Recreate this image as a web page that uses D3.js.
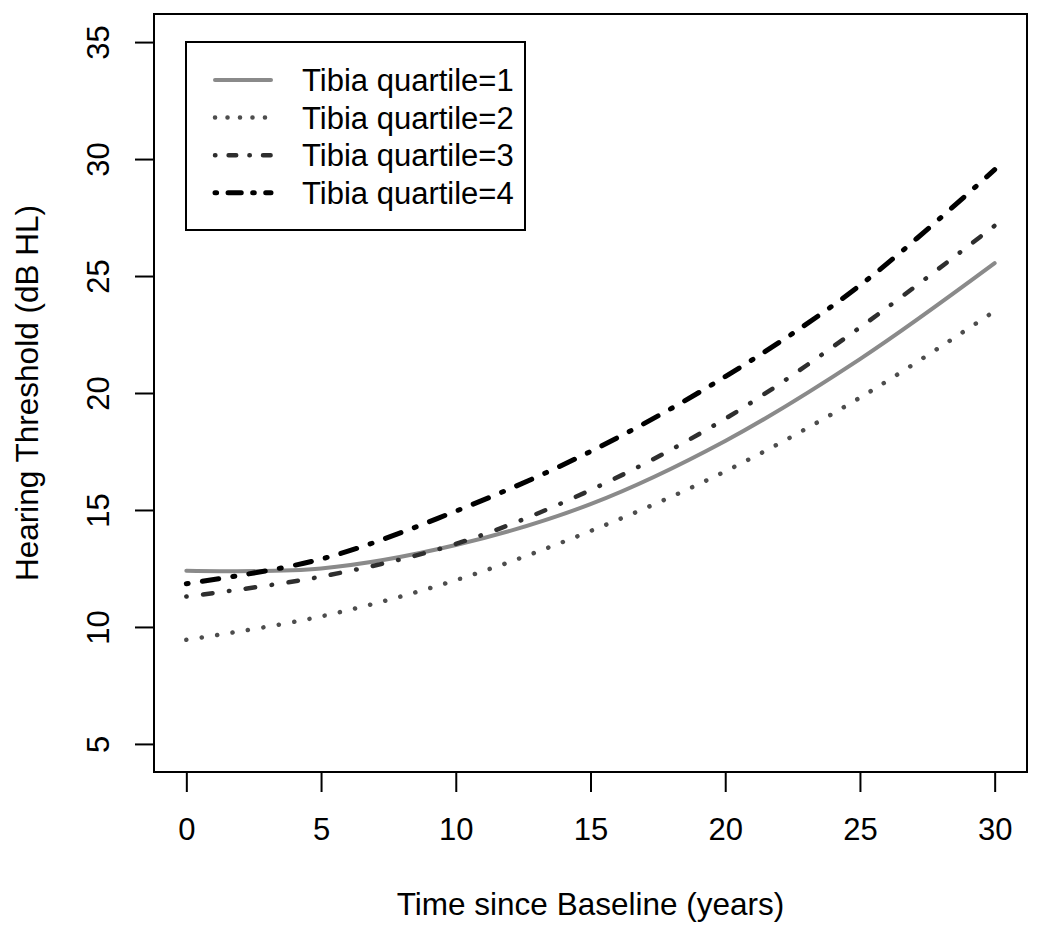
<!DOCTYPE html>
<html>
<head>
<meta charset="utf-8">
<script src="https://cdn.jsdelivr.net/npm/d3@7"></script>
<style>
  body { margin: 0; background: #fff; }
  svg { display: block; font-family: "Liberation Sans", Arial, sans-serif; }
  .axis text { font-size: 31px; fill: #000; }
  .axis line, .axis path { stroke: #000; stroke-width: 2; }
  .axis-title { font-size: 31.5px; fill: #000; }
  .legend text { font-size: 31px; fill: #000; }
</style>
</head>
<body>
<div id="chart"></div>
<script>
// Data (years since baseline vs. hearing threshold)
const years = [0, 5, 10, 15, 20, 25, 30];
const quartile1 = [12.4, 12.5, 13.5, 15.25, 17.95, 21.45, 25.55];
const quartile2 = [9.45, 10.45, 12.0, 14.1, 16.65, 19.8, 23.5];
const quartile3 = [11.3, 12.15, 13.55, 15.85, 18.9, 22.8, 27.15];
const quartile4 = [11.85, 12.9, 14.95, 17.5, 20.7, 24.6, 29.55];
const seriesNames = ['Tibia quartile=1', 'Tibia quartile=2', 'Tibia quartile=3', 'Tibia quartile=4'];
const xTicks = [0, 5, 10, 15, 20, 25, 30];
const yTicks = [5, 10, 15, 20, 25, 30, 35];

const series = [quartile1, quartile2, quartile3, quartile4].map((vals, i) => ({
  name: seriesNames[i],
  values: years.map((t, j) => ({t: t, v: vals[j]}))
}));

// line styles roughly like R's lty 1..4 in grey shades
const styles = [
  {color: '#8a8a8a', width: 4, dash: null},
  {color: '#4d4d4d', width: 4.5, dash: '0.1 15.5'},
  {color: '#2e2e2e', width: 4.5, dash: '0.5 16.5 9.5 16.5'},
  {color: '#000000', width: 5, dash: '2 14.3 16.5 14.3'}
];

const width = 1050, height = 932;
const plot = {left: 154, right: 1027, top: 14, bottom: 772};

const svg = d3.select('#chart').append('svg')
    .attr('width', width)
    .attr('height', height);

const xScale = d3.scaleLinear().domain([-1.2, 31.2]).range([plot.left, plot.right]);
const yScale = d3.scaleLinear().domain([3.8, 36.2]).range([plot.bottom, plot.top]);

// axes: R style, ticks outside, no domain line (box drawn separately)
const xAxis = d3.axisBottom(xScale).tickValues(xTicks).tickSize(20).tickPadding(16);
const yAxis = d3.axisLeft(yScale).tickValues(yTicks).tickSize(19).tickPadding(0);

svg.append('g')
    .attr('class', 'axis x-axis')
    .attr('transform', `translate(0,${plot.bottom})`)
    .call(xAxis)
    .call(g => g.select('.domain').remove())
    .call(g => g.selectAll('text').attr('dy', null).attr('y', 68));

svg.append('g')
    .attr('class', 'axis y-axis')
    .attr('transform', `translate(${plot.left},0)`)
    .call(yAxis)
    .call(g => g.select('.domain').remove())
    .call(g => g.selectAll('.tick text')
        .attr('x', null).attr('dy', null)
        .attr('text-anchor', 'middle')
        .attr('transform', 'translate(-45,0) rotate(-90)'));

// plot frame
svg.append('rect')
    .attr('x', plot.left)
    .attr('y', plot.top)
    .attr('width', plot.right - plot.left)
    .attr('height', plot.bottom - plot.top)
    .attr('fill', 'none')
    .attr('stroke', '#000')
    .attr('stroke-width', 2);

// axis titles
svg.append('text')
    .attr('class', 'axis-title')
    .attr('x', (plot.left + plot.right) / 2)
    .attr('y', 915)
    .attr('text-anchor', 'middle')
    .text('Time since Baseline (years)');

svg.append('text')
    .attr('class', 'axis-title')
    .attr('transform', `translate(38,${(plot.top + plot.bottom) / 2}) rotate(-90)`)
    .attr('text-anchor', 'middle')
    .text('Hearing Threshold (dB HL)');

// lines
const line = d3.line()
    .x(d => xScale(d.t))
    .y(d => yScale(d.v))
    .curve(d3.curveCatmullRom.alpha(0.5));

svg.append('g').selectAll('path')
    .data(series)
  .join('path')
    .attr('d', d => line(d.values))
    .attr('fill', 'none')
    .attr('stroke', (d, i) => styles[i].color)
    .attr('stroke-width', (d, i) => styles[i].width)
    .attr('stroke-dasharray', (d, i) => styles[i].dash)
    .attr('stroke-linecap', 'round');

// legend
const legend = svg.append('g').attr('class', 'legend');

legend.append('rect')
    .attr('x', 186)
    .attr('y', 42)
    .attr('width', 339)
    .attr('height', 188)
    .attr('fill', '#fff')
    .attr('stroke', '#000')
    .attr('stroke-width', 2);

const rows = legend.selectAll('.row')
    .data(series)
  .join('g')
    .attr('class', 'row')
    .attr('transform', (d, i) => `translate(0,${80 + i * 37.6})`);

rows.append('line')
    .attr('x1', 215).attr('x2', 271)
    .attr('y1', 0).attr('y2', 0)
    .attr('stroke', (d, i) => styles[i].color)
    .attr('stroke-width', (d, i) => styles[i].width)
    .attr('stroke-dasharray', (d, i) => styles[i].dash ? styles[i].dash.split(' ').map(v => v * 0.8).join(' ') : null)
    .attr('stroke-linecap', 'round');

rows.append('text')
    .attr('x', 302)
    .attr('y', 11)
    .text(d => d.name);
</script>
</body>
</html>
